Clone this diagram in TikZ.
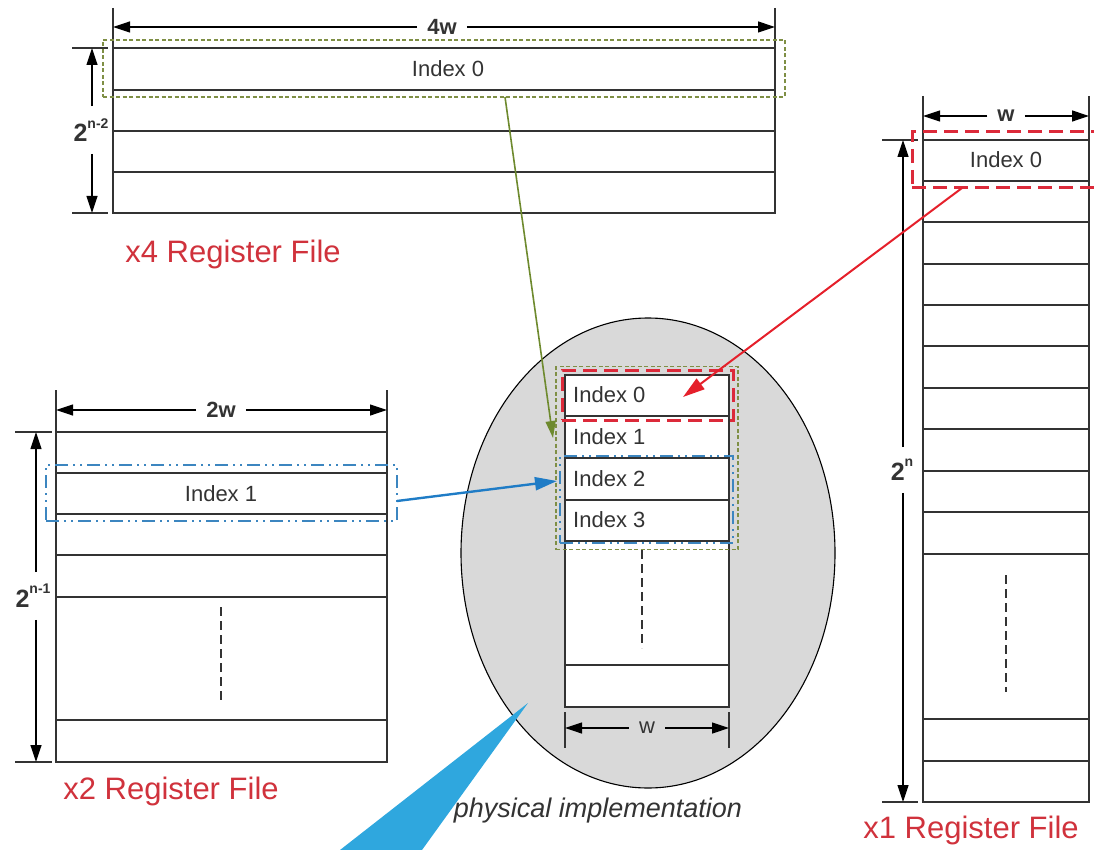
\documentclass[tikz,border=0pt]{standalone}
\usepackage{fontspec}
\setmainfont{Liberation Sans}
\usetikzlibrary{arrows.meta,shapes.geometric}
\definecolor{ink}{HTML}{333333}
\definecolor{lblred}{HTML}{D0323C}
\definecolor{selgreen}{HTML}{7F8F45}
\definecolor{selred}{HTML}{DC2A3A}
\definecolor{selblue}{HTML}{3C86C0}
\definecolor{arrgreen}{HTML}{6E8A2E}
\definecolor{arrred}{HTML}{E5202B}
\definecolor{arrblue}{HTML}{1F7CC6}
\definecolor{callout}{HTML}{2FA7DE}
\definecolor{physgray}{HTML}{D9D9D9}
\newcommand{\pw}[1]{{\bfseries 2\raisebox{0.55em}{\fontsize{14}{14}\selectfont #1}}}
\begin{document}
\begin{tikzpicture}[x=1pt,y=-1pt,
  reg/.style={draw=ink, line width=1.4pt},
  regfill/.style={draw=ink, line width=1.4pt, fill=white},
  ext/.style={draw=ink, line width=1.2pt},
  dimarr/.style={draw=black, line width=1.2pt, -{Triangle[length=17pt,width=11pt]}},
  dots/.style={draw=ink, line width=1.5pt, dash pattern=on 9pt off 5pt},
  idx/.style={text=ink, inner sep=0pt, font=\fontsize{22}{26}\selectfont},
  dimlbl/.style={text=ink, inner xsep=10pt, inner ysep=0pt, font=\fontsize{22}{26}\selectfont\bfseries},
  hlbl/.style={text=ink, inner xsep=0pt, inner ysep=12pt, font=\fontsize{25}{28}\selectfont},
  title/.style={text=lblred, inner sep=0pt, font=\fontsize{31}{35}\selectfont},
  selG/.style={draw=selgreen, line width=1.8pt, dash pattern=on 4pt off 2.5pt, inner sep=0pt, outer sep=0pt},
  selR/.style={draw=selred, line width=3pt, dash pattern=on 14pt off 7pt, inner sep=0pt, outer sep=0pt},
  selB/.style={draw=selblue, line width=2.4pt, dash pattern=on 13pt off 5pt on 2pt off 5pt on 2pt off 5pt, inner sep=0pt, outer sep=0pt},
  link/.style={line width=2pt, -{Triangle[length=22pt,width=13pt]}}
]
\useasboundingbox (0,0) rectangle (1094,850);

% ---------- physical implementation ----------
\node[draw=black, line width=1.1pt, fill=physgray, ellipse, minimum width=374pt, minimum height=470pt, inner sep=0pt] (phys) at (648,553) {};
\fill[callout] (340,850) -- (528,703) -- (422,850) -- cycle;
\draw[regfill] (565,375) rectangle (729,707);
\foreach \y in {416,458,500,541,665} \draw[reg] (565,\y) -- (729,\y);
\draw[dots] (642,550) -- (642,648);
\node[idx, anchor=west] (p0) at (573,395) {Index 0};
\node[idx, anchor=west] (p1) at (573,437) {Index 1};
\node[idx, anchor=west] (p2) at (573,479) {Index 2};
\node[idx, anchor=west] (p3) at (573,520) {Index 3};
\draw[ext] (565,712) -- (565,748);
\draw[ext] (729,712) -- (729,748);
\node[text=ink, inner xsep=10pt, inner ysep=0pt, font=\fontsize{22}{26}\selectfont] (pw) at (647,728) {w};
\coordinate (pwl) at (565,728);
\coordinate (pwr) at (729,728);
\draw[dimarr] (pw.west) -- (pwl);
\draw[dimarr] (pw.east) -- (pwr);
\node[text=ink, font=\fontsize{27}{30}\selectfont\itshape] (physlbl) at (598,811) {physical implementation};

\node[selG, minimum width=182pt, minimum height=183pt] (selP) at (647,458) {};
\node[selR, minimum width=171pt, minimum height=50pt] (selPR) at (647.5,395) {};
\node[selB, minimum width=173pt, minimum height=87pt] (selPB) at (646.5,499.5) {};

% ---------- x4 register file ----------
\draw[reg] (113,48) rectangle (775,213);
\foreach \y in {90,131,172} \draw[reg] (113,\y) -- (775,\y);
\node[idx] (x4i0) at (448,69) {Index 0};
\draw[ext] (113,8) -- (113,48);
\draw[ext] (775,8) -- (775,48);
\node[dimlbl] (x4w) at (442,27) {4w};
\coordinate (x4wl) at (113,27);
\coordinate (x4wr) at (775,27);
\draw[dimarr] (x4w.west) -- (x4wl);
\draw[dimarr] (x4w.east) -- (x4wr);
\draw[ext] (72,48) -- (108,48);
\draw[ext] (72,213) -- (108,213);
\node[hlbl] (x4h) at (91,130) {\pw{n-2}};
\coordinate (x4ht) at (92,48);
\coordinate (x4hb) at (92,213);
\draw[dimarr] (x4h.north -| x4ht) -- (x4ht);
\draw[dimarr] (x4h.south -| x4hb) -- (x4hb);
\node[title] (x4t) at (233,254) {x4 Register File};
\node[selG, minimum width=682pt, minimum height=57pt] (selx4) at (444,68.5) {};

% ---------- x2 register file ----------
\draw[reg] (56,432) rectangle (387,762);
\foreach \y in {473,514,555,597,720} \draw[reg] (56,\y) -- (387,\y);
\draw[dots] (221,607) -- (221,703);
\node[idx] (x2i1) at (221,494) {Index 1};
\draw[ext] (56,390) -- (56,432);
\draw[ext] (387,390) -- (387,432);
\node[dimlbl] (x2w) at (221,410) {2w};
\coordinate (x2wl) at (56,410);
\coordinate (x2wr) at (387,410);
\draw[dimarr] (x2w.west) -- (x2wl);
\draw[dimarr] (x2w.east) -- (x2wr);
\draw[ext] (15,432) -- (52,432);
\draw[ext] (15,762) -- (52,762);
\node[hlbl] (x2h) at (33,596) {\pw{n-1}};
\coordinate (x2ht) at (36,432);
\coordinate (x2hb) at (36,762);
\draw[dimarr] (x2h.north -| x2ht) -- (x2ht);
\draw[dimarr] (x2h.south -| x2hb) -- (x2hb);
\node[title] (x2t) at (171,791) {x2 Register File};
\node[selB, minimum width=351pt, minimum height=56pt] (selx2) at (221.5,493) {};

% ---------- x1 register file ----------
\draw[reg] (923,140) rectangle (1089,802);
\foreach \y in {181,222,264,305,346,388,429,471,512,554,719,761} \draw[reg] (923,\y) -- (1089,\y);
\draw[dots] (1006,575) -- (1006,692);
\node[idx] (x1i0) at (1006,160) {Index 0};
\draw[ext] (923,96) -- (923,140);
\draw[ext] (1089,96) -- (1089,140);
\node[dimlbl] (x1w) at (1006,116) {w};
\coordinate (x1wl) at (923,116);
\coordinate (x1wr) at (1089,116);
\draw[dimarr] (x1w.west) -- (x1wl);
\draw[dimarr] (x1w.east) -- (x1wr);
\draw[ext] (882,140) -- (918,140);
\draw[ext] (882,802) -- (918,802);
\node[hlbl] (x1h) at (902,470) {\pw{n}};
\coordinate (x1ht) at (903,140);
\coordinate (x1hb) at (903,802);
\draw[dimarr] (x1h.north -| x1ht) -- (x1ht);
\draw[dimarr] (x1h.south -| x1hb) -- (x1hb);
\node[title] (x1t) at (971,830) {x1 Register File};
\node[selR, minimum width=184pt, minimum height=56pt] (selx1) at (1004,160) {};

% ---------- mapping arrows ----------
\coordinate (gsrc) at (505,97);
\coordinate (gdst) at (553,438);
\draw[link, draw=arrgreen, line width=1.6pt, -{Triangle[length=17pt,width=10pt]}, fill=arrgreen] (gsrc) -- (gdst);
\coordinate (rsrc) at (962,188);
\coordinate (rdst) at (683,397);
\draw[link, draw=arrred, fill=arrred] (rsrc) -- (rdst);
\coordinate (bsrc) at (397,501);
\coordinate (bdst) at (557,481);
\draw[link, draw=arrblue, fill=arrblue, line width=2.4pt] (bsrc) -- (bdst);
\end{tikzpicture}
\end{document}
